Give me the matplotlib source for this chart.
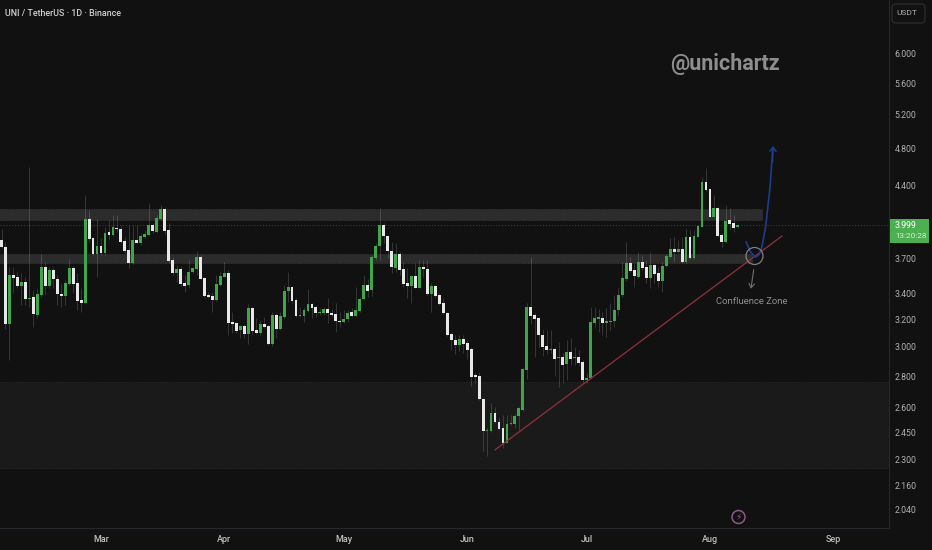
import matplotlib
matplotlib.use("Agg")
import matplotlib.pyplot as plt
from matplotlib.patches import Rectangle, FancyBboxPatch, Circle
from matplotlib.ticker import NullLocator

plt.rcParams['font.family'] = ['Roboto', 'DejaVu Sans']

first_day = -25   # days relative to 1 March
candle_dir = ("WWGWWGWGWG" "GWGWWWGGWW" "WGWWGWGWGW" "WWWGWGGGWG" "GWWWGWWGGG"
              "WWWWGGGWWW" "GWGWWGWWGW" "GGGWWGGGWW" "GGWWWWGGWG" "GGWGGGWWWG"
              "WWWGWGWWGW" "WWWWWGWWWW" "WWGGWWWGGG" "GGGWWWWWGW" "GWGWGWWGGG"
              "GWGGGGGGWW" "GWWGWWGGGW" "GWGWGGGWWG" "WWGWWG")
body_top = [
 3.864,3.797,3.554,3.554,3.537,3.498,3.498,3.368,3.373,3.397,
 3.627,3.627,3.602,3.602,3.526,3.402,3.490,3.613,3.613,3.490,
 3.350,4.058,4.058,3.882,3.812,3.812,3.931,3.934,3.982,3.975,
 3.968,3.852,3.773,3.864,3.864,3.901,3.921,4.003,4.006,4.070,
 4.158,4.158,3.959,3.685,3.608,3.608,3.487,3.585,3.613,3.708,
 3.708,3.529,3.392,3.384,3.479,3.549,3.571,3.571,3.180,3.173,
 3.149,3.149,3.292,3.292,3.122,3.168,3.168,3.149,3.235,3.235,
 3.225,3.426,3.454,3.454,3.352,3.235,3.272,3.318,3.318,3.294,
 3.258,3.282,3.282,3.253,3.243,3.192,3.205,3.253,3.258,3.272,
 3.360,3.473,3.473,3.711,3.812,4.000,4.000,3.899,3.767,3.737,
 3.737,3.605,3.487,3.549,3.549,3.620,3.620,3.608,3.465,3.465,
 3.389,3.326,3.253,3.094,3.051,3.054,3.056,3.024,2.985,2.805,
 2.801,2.652,2.463,2.567,2.565,2.514,2.477,2.499,2.503,2.549,
 2.594,2.845,3.294,3.294,3.232,3.212,3.085,3.008,2.987,2.985,
 2.929,2.929,2.966,2.966,2.929,2.929,2.895,2.790,3.182,3.212,
 3.218,3.215,3.189,3.192,3.276,3.392,3.529,3.656,3.656,3.599,
 3.665,3.665,3.620,3.642,3.642,3.571,3.636,3.720,3.779,3.782,
 3.779,3.782,3.895,3.895,3.901,3.994,4.435,4.435,4.356,4.171,
 4.171,3.910,4.044,4.051,4.019,3.999]
body_bottom = [
 3.800,3.165,3.165,3.532,3.465,3.465,3.358,3.358,3.243,3.238,
 3.395,3.465,3.465,3.521,3.397,3.387,3.387,3.484,3.484,3.342,
 3.331,3.331,3.876,3.740,3.740,3.744,3.746,3.909,3.906,3.962,
 3.845,3.764,3.656,3.656,3.839,3.839,3.891,3.910,3.947,3.937,
 4.060,3.949,3.679,3.576,3.576,3.479,3.465,3.471,3.582,3.608,
 3.523,3.384,3.379,3.352,3.352,3.473,3.541,3.173,3.165,3.117,
 3.122,3.092,3.092,3.115,3.102,3.102,3.145,3.017,3.017,3.127,
 3.127,3.223,3.424,3.347,3.225,3.225,3.230,3.269,3.290,3.250,
 3.248,3.250,3.250,3.238,3.187,3.182,3.182,3.202,3.230,3.230,
 3.269,3.358,3.426,3.429,3.704,3.810,3.896,3.764,3.620,3.616,
 3.597,3.482,3.462,3.462,3.449,3.449,3.606,3.397,3.397,3.384,
 3.320,3.248,3.089,3.049,3.012,3.012,3.019,2.978,2.794,2.794,
 2.652,2.457,2.457,2.461,2.510,2.471,2.390,2.392,2.497,2.497,
 2.546,2.584,2.841,3.227,3.207,3.082,3.001,2.978,2.980,2.918,
 2.922,2.877,2.884,2.918,2.922,2.889,2.774,2.774,2.786,3.172,
 3.207,3.172,3.175,3.184,3.187,3.274,3.392,3.523,3.593,3.549,
 3.543,3.613,3.535,3.529,3.566,3.509,3.509,3.633,3.714,3.752,
 3.755,3.665,3.665,3.703,3.703,3.895,3.987,4.349,4.083,4.083,
 3.904,3.848,3.848,4.012,3.975,3.981]
wick_high = [
 3.965,3.848,3.627,3.627,3.585,3.571,3.543,4.588,3.432,3.446,
 3.735,3.670,3.627,3.627,3.557,3.487,3.515,3.691,3.633,3.571,
 3.446,4.297,4.148,3.895,4.058,3.880,3.987,4.051,4.099,4.099,
 4.003,3.895,4.003,4.003,4.003,3.925,3.956,4.214,4.019,4.099,
 4.197,4.180,4.019,3.714,3.642,3.633,3.557,3.685,3.627,3.767,
 3.729,3.543,3.418,3.418,3.557,3.585,3.670,3.599,3.261,3.184,
 3.160,3.160,3.321,3.300,3.210,3.197,3.223,3.160,3.261,3.253,
 3.261,3.473,3.585,3.465,3.365,3.300,3.300,3.438,3.331,3.305,
 3.287,3.300,3.365,3.279,3.326,3.261,3.274,3.274,3.287,3.454,
 3.379,3.557,3.521,3.729,3.833,4.165,4.019,3.910,3.848,3.833,
 3.759,3.670,3.613,3.557,3.656,3.685,3.685,3.685,3.487,3.473,
 3.406,3.365,3.261,3.099,3.085,3.085,3.085,3.049,2.997,2.819,
 2.829,2.657,2.475,2.625,2.604,2.534,2.555,2.555,2.555,2.560,
 2.604,2.852,3.331,3.711,3.247,3.223,3.127,3.122,3.122,2.997,
 3.037,2.955,3.049,3.061,3.001,2.978,2.909,2.819,3.294,3.300,
 3.279,3.261,3.287,3.326,3.392,3.446,3.670,3.848,3.711,3.650,
 3.759,3.729,3.685,3.759,3.650,3.627,3.670,3.735,3.880,3.889,
 3.864,3.895,3.962,3.956,3.956,4.003,4.488,4.578,4.366,4.297,
 4.180,3.925,4.197,4.165,4.099,4.003]
wick_low = [
 3.791,3.127,2.909,3.404,3.446,3.313,3.313,3.300,3.147,3.210,
 3.379,3.392,3.446,3.446,3.313,3.300,3.313,3.473,3.404,3.274,
 3.261,3.326,3.848,3.729,3.543,3.729,3.729,3.864,3.899,3.940,
 3.833,3.744,3.613,3.650,3.833,3.819,3.880,3.899,3.925,3.925,
 4.051,3.920,3.656,3.557,3.501,3.465,3.418,3.460,3.576,3.557,
 3.521,3.373,3.365,3.261,3.347,3.465,3.537,3.085,3.097,3.097,
 3.061,3.061,3.019,3.085,3.092,3.085,3.135,3.012,3.008,3.066,
 3.122,3.202,3.339,3.326,3.218,3.218,3.184,3.261,3.210,3.223,
 3.235,3.235,3.176,3.223,3.109,3.147,3.176,3.184,3.223,3.223,
 3.261,3.352,3.379,3.384,3.685,3.685,3.833,3.700,3.571,3.585,
 3.557,3.460,3.365,3.326,3.446,3.446,3.543,3.392,3.261,3.379,
 3.313,3.243,3.079,2.978,2.950,2.973,2.955,2.914,2.735,2.752,
 2.646,2.342,2.316,2.455,2.504,2.465,2.360,2.388,2.495,2.475,
 2.465,2.580,2.779,3.168,2.928,3.001,2.936,2.950,2.955,2.801,
 2.730,2.752,2.774,2.875,2.875,2.875,2.757,2.752,2.779,3.147,
 3.109,3.085,3.073,3.122,3.141,3.235,3.379,3.507,3.582,3.460,
 3.532,3.599,3.490,3.446,3.490,3.460,3.418,3.620,3.703,3.670,
 3.744,3.662,3.656,3.691,3.691,3.892,3.982,4.343,4.077,4.077,
 3.895,3.797,3.839,3.956,3.940,3.975]

price_ticks = [6.0, 5.6, 5.2, 4.8, 4.4, 3.7, 3.4, 3.2, 3.0, 2.8, 2.6, 2.45, 2.3, 2.16, 2.04]
price_labels = ["6.000","5.600","5.200","4.800","4.400","3.700","3.400","3.200",
                "3.000","2.800","2.600","2.450","2.300","2.160","2.040"]
month_days = [0, 31, 61, 92, 122, 153, 184]
month_labels = ["Mar", "Apr", "May", "Jun", "Jul", "Aug", "Sep"]
last_price = 3.999
zone_upper = (4.046, 4.158)
zone_lower = (3.659, 3.737)
zone_demand = (2.253, 2.761)
trend_days = [99, 171.1]
trend_prices = [2.351, 3.90]
path_days = [162.1, 163.2, 164.5, 165.3, 166.0, 167.0, 167.6, 168.1, 168.8]
path_prices = [3.845, 3.755, 3.71, 3.73, 3.79, 3.987, 4.197, 4.38, 4.80]

BG = '#111111'
TXT = '#b0b0b0'
fig = plt.figure(figsize=(9.32, 5.5), dpi=100, facecolor=BG)
ax = fig.add_axes([0, 22/550, 889/932, 528/550], facecolor=BG)
ax.set_yscale('log')
ax.set_xlim(-25.38, 197.99)
ax.set_ylim(1.954, 6.818)

days = [first_day + i for i in range(len(candle_dir))]
wick_col = (1, 1, 1, 0.15)
ax.vlines(days, wick_low, wick_high, colors=[wick_col], linewidth=0.72, zorder=2)
cols = ['#3fa64a' if d == 'G' else '#e8e8e8' for d in candle_dir]
ax.bar(days, [t - b for t, b in zip(body_top, body_bottom)], bottom=body_bottom,
       width=0.72, color=cols, linewidth=0, zorder=3)

# zones
def zone(lo_hi, x0, x1, fc, ec):
    ax.add_patch(Rectangle((x0, lo_hi[0]), x1 - x0, lo_hi[1] - lo_hi[0], facecolor=fc,
                           edgecolor=ec, linewidth=0.5, linestyle=(0, (1, 1.5)), zorder=1))
zone(zone_demand, -26, 199, '#1a1a1a', '#333333')
zone(zone_upper, -26, 166, '#2c2c2c', '#444444')
zone(zone_lower, -26, 163.5, '#2c2c2c', '#444444')

ax.axhline(last_price, color='#2a5030', linewidth=0.7, linestyle=(0, (1, 2)), zorder=1.5)

# drawings
ax.plot(trend_days, trend_prices, color='#8c2f3d', linewidth=0.95, zorder=4)
ax.plot(path_days, path_prices, color='#1f3d8c', linewidth=1.2, zorder=5)
ax.annotate('', xy=(168.9, 4.86), xytext=(168.7, 4.62),
            arrowprops=dict(arrowstyle='->,head_width=0.22,head_length=0.3', color='#1f3d8c', lw=1.1), zorder=5)
ax.scatter([164.2], [3.72], s=150, facecolor='none', edgecolor='#7f7f7f', linewidth=0.9, zorder=6)
ax.annotate('', xy=(163.2, 3.42), xytext=(164.1, 3.625),
            arrowprops=dict(arrowstyle='->,head_width=0.2,head_length=0.3', color='#6f6f6f', lw=0.8), zorder=5)

# axes
ax.set_yticks(price_ticks)
ax.set_yticklabels(price_labels)
ax.yaxis.set_minor_locator(NullLocator())
ax.yaxis.tick_right()
ax.set_xticks(month_days)
ax.set_xticklabels(month_labels, fontweight='medium')
ax.tick_params(axis='y', length=0, pad=4, labelsize=6.3, labelcolor=TXT)
ax.tick_params(axis='x', length=0, pad=5, labelsize=6.5, labelcolor='#c0c0c0')
for s in ['left', 'top']:
    ax.spines[s].set_visible(False)
for s in ['right', 'bottom']:
    ax.spines[s].set_color('#26282d')
    ax.spines[s].set_linewidth(0.8)

# overlay texts
def fx(px): return px / 932
def fy(py): return 1 - py / 550

fig.text(fx(5), fy(13), "UNI / TetherUS · 1D · Binance", color='#cfcfcf', fontsize=6.4,
         va='center', ha='left', fontweight='medium')
fig.text(fx(725), fy(64), "@unichartz", color='#8e8e8e', fontsize=15.5, fontweight='bold',
         va='center', ha='center')
fig.text(fx(751.5), fy(301), "Confluence Zone", color='#8f8f8f', fontsize=6.8, va='center', ha='center')

fig.add_artist(FancyBboxPatch((fx(892), fy(23)), 33/932, 19/550, transform=fig.transFigure,
                              boxstyle='round,pad=0,rounding_size=0.004', facecolor=BG,
                              edgecolor='#2e3035', linewidth=0.8, mutation_aspect=1.7))
fig.text(fx(906.5), fy(13), "USDT", color=TXT, fontsize=6.0, va='center', ha='center')

fig.add_artist(Rectangle((fx(890), fy(243)), 39/932, 24/550, transform=fig.transFigure,
                         facecolor='#4caf50', edgecolor='none'))
fig.text(fx(895), fy(226), f"{last_price:.3f}", color='#ffffff', fontsize=6.3, va='center', ha='left')
fig.text(fx(895), fy(236.5), "13:20:28", color='#dcefdc', fontsize=5.9, va='center', ha='left')

lx, ly = 738.5, 517
ax_circle = Circle((lx, 550 - ly), 6.5, transform=None, facecolor='none', edgecolor='#8a5a86', linewidth=1.1)
fig.add_artist(ax_circle)
fig.text(fx(lx), fy(ly), "\u26a1", family='DejaVu Sans', color='#8a5a86', fontsize=6.5, va='center', ha='center')

fig.savefig('out.png', dpi=100, facecolor=BG)
